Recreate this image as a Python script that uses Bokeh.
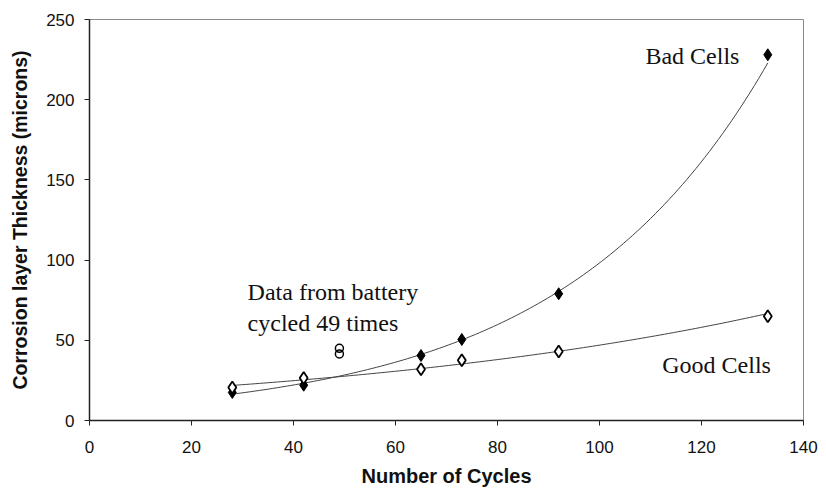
import numpy as np
from bokeh.plotting import figure
from bokeh.models import Range1d, FixedTicker, Label
from bokeh.embed import file_html
from bokeh.resources import INLINE

# Corrosion layer thickness (microns) vs. number of cycles
cycles = [28, 42, 65, 73, 92, 133]
bad_cells = [17.5, 22, 40.5, 50.5, 79, 228]
good_cells = [20.5, 26.5, 32, 37.5, 43, 65]

battery49_cycles = [49, 49]
battery49_thickness = [45, 41.5]

x_ticks = [0, 20, 40, 60, 80, 100, 120, 140]
y_ticks = [0, 50, 100, 150, 200, 250]

SANS = "Liberation Sans"
SERIF = "Liberation Serif"


def exp_fit(x, y):
    """Least-squares exponential trend line y = a*exp(b*x)."""
    x = np.asarray(x, dtype=float)
    b, ln_a = np.polyfit(x, np.log(np.asarray(y, dtype=float)), 1)
    xs = np.linspace(x.min(), x.max(), 120)
    return xs, np.exp(ln_a) * np.exp(b * xs)


p = figure(width=826, height=489, output_backend="svg", toolbar_location=None,
           x_range=Range1d(0, 140), y_range=Range1d(0, 250),
           min_border_left=89, min_border_right=23, min_border_top=19,
           min_border_bottom=69)

p.grid.visible = False
p.outline_line_color = "#8a8a8a"
p.outline_line_width = 1
p.background_fill_color = "white"
p.border_fill_color = "white"

p.xaxis.ticker = FixedTicker(ticks=x_ticks)
p.yaxis.ticker = FixedTicker(ticks=y_ticks)
for ax in (p.xaxis, p.yaxis):
    ax.axis_line_color = "#222222"
    ax.axis_line_width = 1.5
    ax.major_tick_line_color = "#222222"
    ax.major_tick_out = 5
    ax.major_tick_in = 0
    ax.minor_tick_line_color = None
    ax.major_label_text_font = SANS
    ax.major_label_text_font_size = "17px"
    ax.major_label_text_color = "#111111"
    ax.axis_label_text_font = SANS
    ax.axis_label_text_font_style = "bold"
    ax.axis_label_text_color = "#111111"

p.xaxis.axis_label_text_font_size = "20px"
p.yaxis.axis_label_text_font_size = "19.5px"
p.xaxis.major_label_standoff = 15
p.yaxis.major_label_standoff = 10
p.xaxis.axis_label = "Number of Cycles"
p.yaxis.axis_label = "Corrosion layer Thickness (microns)"
p.xaxis.axis_label_standoff = 9
p.yaxis.axis_label_standoff = 12

# exponential trend lines
bx, by = exp_fit(cycles, bad_cells)
gx, gy = exp_fit(cycles, good_cells)
p.line(bx, by, line_color="#444444", line_width=1)
p.line(gx, gy, line_color="#444444", line_width=1)

# measured points
p.scatter(cycles, bad_cells, marker="diamond", size=12,
          fill_color="black", line_color="black", line_width=1)
p.scatter(cycles, good_cells, marker="diamond", size=12,
          fill_color="white", line_color="black", line_width=1.8)
p.scatter(battery49_cycles, battery49_thickness, marker="circle", size=8,
          fill_color=None, line_color="black", line_width=1.5)

# annotations
def note(x, y, text):
    p.add_layout(Label(x=x, y=y, text=text, text_font=SERIF,
                       text_font_size="24px", text_color="#111111",
                       text_baseline="middle", text_align="left"))

note(109, 227.5, "Bad Cells")
note(112.3, 34.5, "Good Cells")
note(31.0, 80, "Data from battery")
note(31.0, 61, "cycled 49 times")

open("out.html", "w").write(file_html(p, INLINE))
